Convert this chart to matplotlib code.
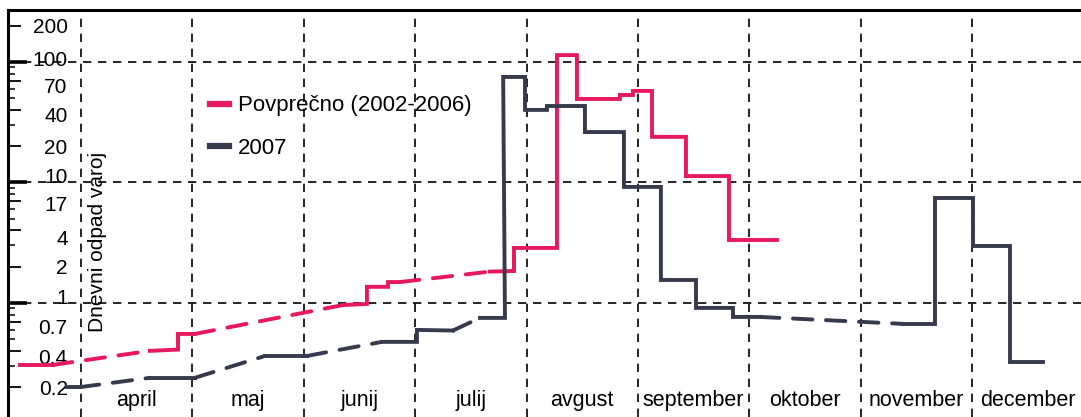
import numpy as np
from matplotlib import pyplot as plt
from matplotlib.lines import Line2D
from matplotlib.transforms import ScaledTranslation
from matplotlib.ticker import FixedLocator, FixedFormatter, LogLocator, NullFormatter

plt.rcParams['font.family'] = ['Liberation Sans', 'DejaVu Sans']

# x in months (4 = 1 April, 5 = 1 May ...), y = daily mite drop
months = ['april', 'maj', 'junij', 'julij', 'avgust', 'september', 'oktober', 'november', 'december']
month_start = [4, 5, 6, 7, 8, 9, 10, 11, 12]

ytick_vals = [200, 100, 70, 40, 20, 10, 7, 4, 2, 1, 0.7, 0.4, 0.2]
ytick_text = ['200', '100', '70', '40', '20', '10', '17', '4', '2', '1', '0.7', '0.4', '0.2']
# labels in the scan sit a little off their ticks (pixels, + = up)
ytick_shift = [0, 3, -5, -5, 0, 7, -2, -7, 0, 6, -5, -6, 0]

# Povprecno (2002-2006); 's' = solid segment, 'd' = dashed segment
avg_x = [3.452, 3.749, 4.619, 4.871, 4.871, 5.023, 6.352, 6.567, 6.567, 6.756, 6.756, 6.864,
         7.671, 7.887, 7.887, 8.273, 8.273, 8.452, 8.452, 8.838, 8.838, 8.955, 8.955, 9.126,
         9.126, 9.431, 9.431, 9.817, 9.817, 10.248]
avg_y = [0.306, 0.306, 0.40, 0.41, 0.553, 0.553, 0.96, 0.98, 1.36, 1.36, 1.49, 1.49,
         1.82, 1.84, 2.86, 2.86, 114, 114, 49.3, 49.3, 53.2, 53.2, 57.5, 57.5,
         23.9, 23.9, 11.3, 11.3, 3.33, 3.33]
avg_seg = 'sdsssdsssss' + 'd' + 's' * 17

# 2007
y07_x = [3.874, 3.991, 4.619, 5.023, 5.652, 6.029, 6.702, 7.016, 7.016, 7.339, 7.582, 7.806,
         7.79, 7.986, 7.986, 8.183, 8.183, 8.524, 8.524, 8.874, 8.874, 9.206, 9.206, 9.521,
         9.521, 9.853, 9.853, 10.095, 11.379, 11.666, 11.666, 12.007, 12.007, 12.339, 12.339, 12.635]
y07_y = [0.20, 0.20, 0.239, 0.239, 0.363, 0.363, 0.475, 0.475, 0.597, 0.59, 0.751, 0.751,
         75.1, 75.1, 40, 40, 43.1, 43.1, 26.2, 26.2, 9.18, 9.18, 1.55, 1.55,
         0.909, 0.909, 0.765, 0.765, 0.67, 0.67, 7.43, 7.43, 2.97, 2.97, 0.324, 0.324]
y07_seg = 'sdsdsdsss' + 'd' + 's' * 17 + 'd' + 's' * 7

pink = '#e8185f'
dark = '#373a4c'


def draw(ax, xs, ys, seg, color):
    i = 0
    n = len(seg)
    while i < n:
        j = i
        while j < n and seg[j] == seg[i]:
            j += 1
        if seg[i] == 'd':
            ax.plot(xs[i:j + 1], ys[i:j + 1], color=color, lw=2.8,
                    dashes=(5, 3.5), dash_capstyle='round', zorder=3)
        else:
            ax.plot(xs[i:j + 1], ys[i:j + 1], color=color, lw=2.8,
                    solid_joinstyle='miter', zorder=3)
        i = j


fig = plt.figure(figsize=(10.81, 4.17), dpi=100)
ax = fig.add_axes([8 / 1081, 0, 1 - 8 / 1081, 1 - 10 / 417])

draw(ax, avg_x, avg_y, avg_seg, pink)
draw(ax, y07_x, y07_y, y07_seg, dark)

ax.set_yscale('log')
ax.set_xlim(3.345, 12.977)
ax.set_ylim(0.113, 270)

# grid
for m in month_start:
    ax.axvline(m, color='black', lw=1.2, dashes=(5, 4), zorder=1)
for d in [1, 10, 100]:
    ax.axhline(d, color='black', lw=1.2, dashes=(5, 4), zorder=1)

ax.spines['right'].set_visible(False)
ax.spines['bottom'].set_visible(False)
ax.spines['top'].set_linewidth(2.2)
ax.spines['left'].set_linewidth(2.2)

ax.set_xticks([])
ax.yaxis.set_major_locator(FixedLocator(ytick_vals))
ax.yaxis.set_major_formatter(FixedFormatter(ytick_text))
ax.yaxis.set_minor_locator(LogLocator(base=10, subs=np.arange(2, 10)))
ax.yaxis.set_minor_formatter(NullFormatter())
ax.tick_params(axis='y', which='major', direction='in', length=9, width=1.3,
               pad=-43, labelsize=15)
ax.tick_params(axis='y', which='minor', direction='in', length=5, width=1.1)
for t, v, dy in zip(ax.yaxis.get_major_ticks(), ytick_vals, ytick_shift):
    if v in (1, 10, 100):
        t.tick1line.set_markersize(14)
        t.tick1line.set_markeredgewidth(2.6)
    off = ScaledTranslation(0, dy / fig.dpi, fig.dpi_scale_trans)
    t.label1.set_transform(t.label1.get_transform() + off)

for m, name in zip(month_start, months):
    ax.text(m + 0.5, 0.04, name, transform=ax.get_xaxis_transform(),
            ha='center', va='center', fontsize=15.5)

ax.text(4.144, 3.21, 'Dnevni odpad varoj', rotation=90, ha='center', va='center', fontsize=15)

handles = [Line2D([], [], color=pink, lw=4.5), Line2D([], [], color=dark, lw=4.5)]
ax.legend(handles, ['Povprečno (2002-2006)', '2007'], loc='upper left',
          bbox_to_anchor=(0.188, 0.79), frameon=False, fontsize=16,
          handlelength=0.85, handletextpad=0.4, labelspacing=0.95,
          borderpad=0, borderaxespad=0)

fig.savefig('out.png', dpi=100)
